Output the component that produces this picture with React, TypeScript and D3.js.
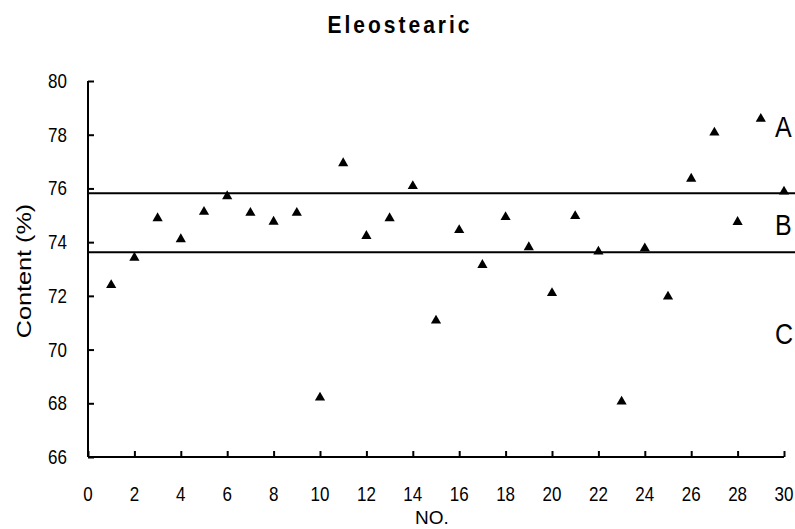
import React, { useEffect, useRef } from "react";
import * as d3 from "d3";

const sampleNo = [1,2,3,4,5,6,7,8,9,10,11,12,13,14,15,16,17,18,19,20,21,22,23,24,25,26,27,28,29,30];
const content = [72.40,73.42,74.89,74.11,75.13,75.71,75.09,74.76,75.09,68.21,76.94,74.23,74.89,76.09,71.08,74.45,73.15,74.93,73.81,72.10,74.97,73.65,68.06,73.77,71.97,76.36,78.08,74.75,78.59,75.88];
const xTicks = [0,2,4,6,8,10,12,14,16,18,20,22,24,26,28,30];
const yTicks = [66,68,70,72,74,76,78,80];
const refLines = [75.82, 73.62];
const zoneLabels = ["A", "B", "C"];
const zoneValues = [78.25, 74.6, 70.55];

export default function App() {
  const ref = useRef<SVGSVGElement>(null);
  useEffect(() => {
    const svg = d3.select(ref.current);
    svg.selectAll("*").remove();
    const x = d3.scaleLinear().domain([0, 30]).range([88, 784]);
    const y = d3.scaleLinear().domain([66, 80]).range([457, 81]);
    const font = "Liberation Sans, Arial, sans-serif";

    svg.append("text").attr("transform", "translate(400,33) scale(1,1.15)").attr("text-anchor", "middle")
      .attr("font-family", font).attr("font-weight", "bold").attr("font-size", 21)
      .attr("letter-spacing", 3).text("Eleostearic");

    // reference lines
    svg.selectAll("line.ref").data(refLines).enter().append("line")
      .attr("x1", x(0)).attr("x2", 795).attr("y1", d => y(d)).attr("y2", d => y(d))
      .attr("stroke", "#000").attr("stroke-width", 2);

    // y axis
    const yAxis = svg.append("g").attr("transform", `translate(${x(0)},0)`)
      .call(d3.axisRight(y).tickValues(yTicks).tickSize(6).tickFormat(() => ""));
    yAxis.select(".domain").attr("stroke-width", 2).attr("d", `M0,${y(80)}V${y(66)}`);
    yAxis.selectAll(".tick line").attr("stroke-width", 2);
    svg.selectAll("text.ylab").data(yTicks).enter().append("text")
      .attr("transform", d => `translate(67,${y(d) + 7}) scale(1,1.2)`).attr("text-anchor", "end")
      .attr("font-family", font).attr("font-size", 17).text(d => String(d));

    // x axis
    const xAxis = svg.append("g").attr("transform", `translate(0,${y(66)})`)
      .call(d3.axisTop(x).tickValues(xTicks).tickSize(6).tickFormat(() => ""));
    xAxis.select(".domain").attr("stroke-width", 2).attr("d", `M${x(0)},0H${x(30)}`);
    xAxis.selectAll(".tick line").attr("stroke-width", 2);
    svg.selectAll("text.xlab").data(xTicks).enter().append("text")
      .attr("transform", d => `translate(${x(d)},501) scale(1,1.2)`).attr("text-anchor", "middle")
      .attr("font-family", font).attr("font-size", 17).text(d => String(d));

    svg.append("text").attr("x", 432).attr("y", 524).attr("text-anchor", "middle")
      .attr("font-family", font).attr("font-size", 19).text("NO.");
    svg.append("text").attr("transform", `translate(31,271) rotate(-90) scale(1.2,1)`).attr("text-anchor", "middle")
      .attr("font-family", font).attr("font-size", 21).text("Content (%)");

    // points
    const tri = d3.symbol().type(d3.symbolTriangle).size(45);
    svg.selectAll("path.pt").data(sampleNo).enter().append("path")
      .attr("d", tri as any)
      .attr("transform", (d, i) => `translate(${x(d)},${y(content[i])})`)
      .attr("fill", "#000");

    // zone labels
    svg.selectAll("text.zone").data(zoneLabels).enter().append("text")
      .attr("transform", (d, i) => `translate(775,${y(zoneValues[i]) + 9}) scale(1,1.2)`)
      .attr("font-family", font).attr("font-size", 25).text(d => d);
  }, []);
  return (
    <svg ref={ref} width={795} height={529}
      style={{ position: "absolute", left: 0, top: 0, background: "#fff" }} />
  );
}
